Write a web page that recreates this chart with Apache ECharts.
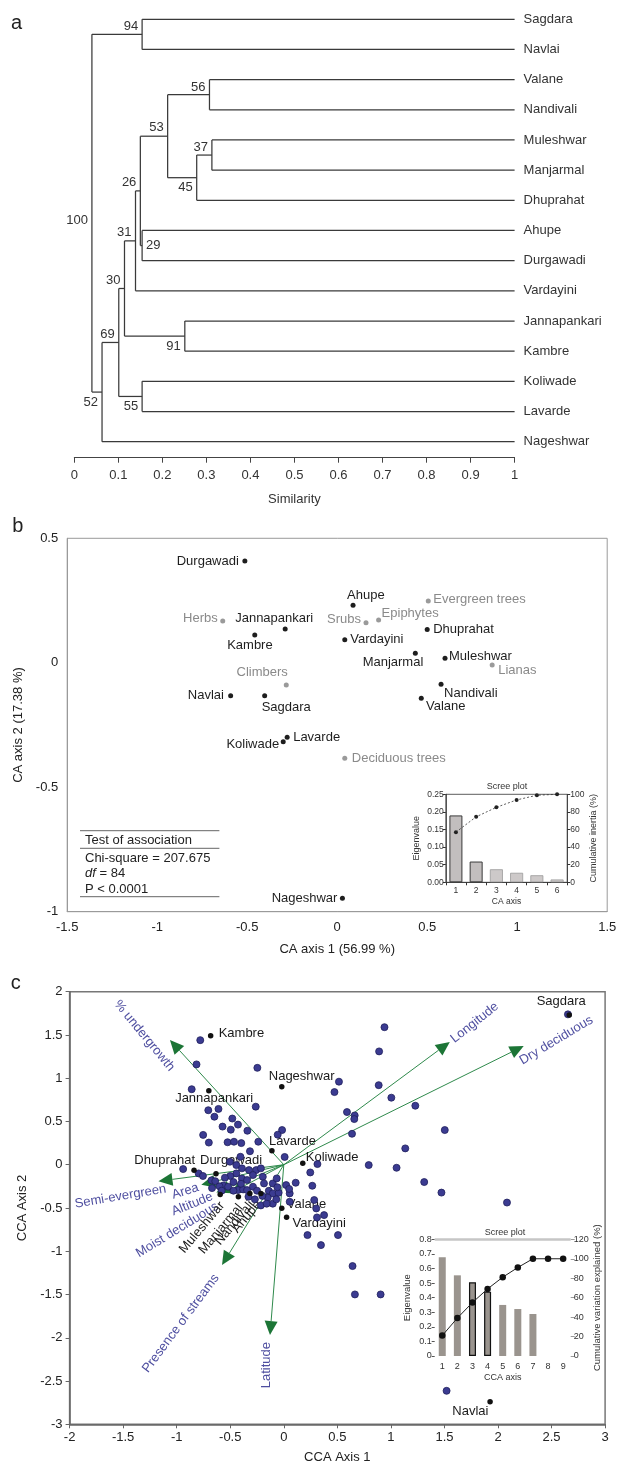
<!DOCTYPE html>
<html><head><meta charset="utf-8">
<script src="https://cdn.jsdelivr.net/npm/echarts@6/dist/echarts.min.js"></script>
<style>html,body{margin:0;padding:0;background:#fff}#c{width:620px;height:1464px}</style>
</head><body><div id="c"></div>
<script>
// ================= DATA =================
// Panel a: dendrogram
const dendroLeaves = ['Sagdara','Navlai','Valane','Nandivali','Muleshwar','Manjarmal','Dhuprahat','Ahupe','Durgawadi','Vardayini','Jannapankari','Kambre','Koliwade','Lavarde','Nageshwar'];
const dendroNodeIds = ['n94','n56','n37','n45','n53','n29','n26','n31','n91','n30','n55','n69','n52','n100'];
const dendroChildA = ['Sagdara','Valane','Muleshwar','n37','n56','Ahupe','n53','n26','Jannapankari','n31','Koliwade','n30','n69','n94'];
const dendroChildB = ['Navlai','Nandivali','Manjarmal','Dhuprahat','n45','Durgawadi','n29','Vardayini','Kambre','n91','Lavarde','n55','Nageshwar','n52'];
const dendroSimilarity = [0.154,0.307,0.3125,0.278,0.212,0.154,0.150,0.139,0.251,0.114,0.154,0.101,0.063,0.040];
const dendroSupport = [94,56,37,45,53,29,26,31,91,30,55,69,52,100];

// Panel b: correspondence analysis
const caSiteNames = ['Durgawadi','Ahupe','Jannapankari','Kambre','Dhuprahat','Vardayini','Manjarmal','Muleshwar','Nandivali','Valane','Navlai','Sagdara','Koliwade','Lavarde','Nageshwar'];
const caSiteAxis1 = [-0.513,0.088,-0.289,-0.458,0.500,0.042,0.434,0.599,0.577,0.467,-0.592,-0.403,-0.300,-0.278,0.029];
const caSiteAxis2 = [0.409,0.231,0.136,0.112,0.134,0.092,0.038,0.018,-0.086,-0.143,-0.133,-0.133,-0.317,-0.299,-0.946];
const caFormNames = ['Herbs','Srubs','Epiphytes','Evergreen trees','Lianas','Climbers','Deciduous trees'];
const caFormAxis1 = [-0.636,0.160,0.230,0.506,0.861,-0.283,0.042];
const caFormAxis2 = [0.168,0.161,0.172,0.248,-0.009,-0.089,-0.384];
const caScreeAxes = ['1','2','3','4','5','6'];
const caEigenvalues = [0.190,0.059,0.037,0.027,0.020,0.008];
const caCumInertia = [57.0,74.4,85.2,93.6,98.9,100];
const caTestLines = ['Test of association','Chi-square = 207.675','{i|df} = 84','P < 0.0001'];

// Panel c: canonical correspondence analysis
const ccaPlotAxis1 = [0.94,0.89,-0.78,-0.815,-0.247,0.515,0.473,0.886,1.004,-0.86,1.228,-0.705,-0.61,-0.262,-0.648,-0.481,-0.428,-0.572,-0.495,-0.34,0.59,0.662,0.658,0.637,-0.016,-0.057,1.503,-0.753,-0.70,-0.525,-0.465,-0.397,-0.238,-0.316,-0.405,0.008,1.134,0.793,1.053,1.311,1.472,2.084,0.314,0.247,0.266,0.111,0.022,-0.94,-0.795,-0.755,-0.675,-0.64,-0.565,-0.52,-0.443,-0.391,-0.325,-0.258,-0.214,-0.443,-0.391,-0.343,-0.288,-0.196,-0.185,-0.103,-0.066,-0.428,-0.38,-0.343,-0.288,-0.14,-0.103,-0.048,0.055,-0.214,-0.103,0.055,0.284,0.303,0.31,0.376,0.221,0.506,0.347,0.642,0.664,0.904,1.52,2.653,-0.503,-0.50,-0.55,-0.47,-0.47,-0.40,-0.25,-0.15,-0.07,-0.33,-0.27,-0.16,-0.06,0.05,-0.60,-0.58,-0.67,-0.20];
const ccaPlotAxis2 = [1.59,1.31,1.44,1.16,1.12,0.96,0.84,0.92,0.775,0.873,0.682,0.63,0.645,0.671,0.555,0.534,0.464,0.441,0.405,0.393,0.609,0.57,0.528,0.358,0.401,0.347,0.401,0.345,0.256,0.26,0.266,0.25,0.266,0.156,0.092,0.09,0.189,-0.004,-0.035,-0.2,-0.322,-0.437,0.008,-0.089,-0.243,-0.208,-0.235,-0.05,-0.10,-0.13,-0.18,-0.19,-0.24,-0.254,-0.004,-0.042,-0.062,-0.062,-0.042,-0.10,-0.158,-0.177,-0.119,-0.139,-0.216,-0.216,-0.158,-0.293,-0.285,-0.293,-0.254,-0.301,-0.331,-0.324,-0.331,-0.47,-0.45,-0.428,-0.408,-0.505,-0.609,-0.582,-0.813,-0.813,-0.929,-1.171,-1.499,-1.499,-2.613,1.738,0.035,-0.13,-0.15,-0.2,-0.3,-0.22,-0.30,-0.38,-0.40,-0.37,-0.40,-0.45,-0.26,-0.28,-0.25,-0.30,-0.27,-0.36];
const ccaSiteNames = ['Sagdara','Kambre','Nageshwar','Jannapankari','Lavarde','Koliwade','Dhuprahat','Durgawadi','Muleshwar','Manjarmal','Nandivali','Ahupe','Valane','Vardayini','Navlai'];
const ccaSiteAxis1 = [2.665,-0.683,-0.019,-0.70,-0.111,0.177,-0.838,-0.633,-0.594,-0.424,-0.317,-0.214,-0.019,0.026,1.926];
const ccaSiteAxis2 = [1.73,1.49,0.90,0.855,0.162,0.016,-0.065,-0.104,-0.343,-0.37,-0.331,-0.331,-0.504,-0.608,-2.74];
const ccaVarNames = ['% undergrowth','Longitude','Dry deciduous','Semi-evergreen','Area','Altitude','Moist deciduous','Presence of streams','Latitude'];
const ccaVarAxis1 = [-1.063,1.55,2.24,-1.17,-0.77,-0.63,-0.50,-0.577,-0.129];
const ccaVarAxis2 = [1.442,1.42,1.372,-0.19,-0.23,-0.32,-0.33,-1.16,-1.969];
const ccaScreeAxes = ['1','2','3','4','5','6','7','8','9'];
const ccaEigenvalues = [0.677,0.553,0.505,0.441,0.350,0.322,0.288,'-','-'];
const ccaCumVariation = [21,39,55,69,81,91,100,100,100];

// ================= STYLE / LAYOUT =================
const FONT = '"Liberation Sans", Arial, Helvetica, sans-serif';
const f = (s) => s + 'px ' + FONT;
const supportPlace = {94:'lt',56:'lt',37:'lt',45:'lb',53:'la',29:'r',26:'la',31:'la',91:'lb',30:'la',55:'lb',69:'la',52:'lb',100:'lm'};
const caPlace = {
  Durgawadi:[-6,0,'right'], Ahupe:[-6,-10,'left'], Jannapankari:[-50,-10,'left'], Kambre:[-27.6,11,'left'],
  Dhuprahat:[6,0,'left'], Vardayini:[5.5,0,'left'], Manjarmal:[8,9.4,'right'], Muleshwar:[4,-2,'left'],
  Nandivali:[3,9,'left'], Valane:[4.7,8.4,'left'], Navlai:[-6.7,0,'right'], Sagdara:[-3,12,'left'],
  Koliwade:[-4,2.3,'right'], Lavarde:[6,0,'left'], Nageshwar:[-5,0,'right'],
  'Herbs':[-5,-3,'right'], 'Srubs':[-5,-3,'right'], 'Epiphytes':[3,-7,'left'], 'Evergreen trees':[5,-2,'left'],
  'Lianas':[6,5,'left'], 'Climbers':[1.6,-12,'right'], 'Deciduous trees':[7,0,'left']
};
const ccaSitePlace = {
  Sagdara:[-8,-13.3,'center'], Kambre:[8,-2,'left'], Nageshwar:[-13,-10,'left'], Jannapankari:[-33.7,7.6,'left'],
  Lavarde:[-3,-9,'left'], Koliwade:[3,-6,'left'], Dhuprahat:[1,-9.6,'right'], Durgawadi:[-16,-13,'left'],
  Muleshwar:[2,9,'right',50], Manjarmal:[2,9,'right',50], Nandivali:[2,9,'right',50], Ahupe:[-2,9,'right',50],
  Valane:[5,-4,'left'], Vardayini:[6,6,'left'], Navlai:[-19.7,10,'center']
};
const ccaVarPlace = {
  '% undergrowth':[-25.7,-4.2,-50.4], 'Longitude':[24.9,-19.2,38.5], 'Dry deciduous':[32.6,-5.7,30.9],
  'Semi-evergreen':[-38,15.3,9.5], 'Area':[-16,6.7,17], 'Altitude':[-24,11.7,22], 'Moist deciduous':[-53,36.6,31.5],
  'Presence of streams':[-41.2,58.3,53.3], 'Latitude':[-3.2,30,90]
};

// ================= BUILD =================
const pos = {};
dendroLeaves.forEach((n,i)=>{pos[n]={x:1,y:i};});
dendroNodeIds.forEach((id,i)=>{const a=pos[dendroChildA[i]], b=pos[dendroChildB[i]]; pos[id]={x:dendroSimilarity[i], y:(a.y+b.y)/2};});

function renderDendro(params, api){
  const i = params.dataIndex;
  const a = pos[dendroChildA[i]], b = pos[dendroChildB[i]];
  const pa = api.coord([a.x,a.y]), pb = api.coord([b.x,b.y]);
  const pn = api.coord([dendroSimilarity[i], (a.y+b.y)/2]);
  const px = pn[0];
  const ls = {stroke:'#3a3a3a', lineWidth:1.25};
  const ch = [
    {type:'line', shape:{x1:px,y1:pa[1],x2:px,y2:pb[1]}, style:ls},
    {type:'line', shape:{x1:px,y1:pa[1],x2:pa[0],y2:pa[1]}, style:ls},
    {type:'line', shape:{x1:px,y1:pb[1],x2:pb[0],y2:pb[1]}, style:ls}
  ];
  const pl = supportPlace[dendroSupport[i]];
  let tx = px-4, ty = pn[1], al = 'right';
  if (pl==='lt') ty = pa[1]+7.5;
  else if (pl==='la') ty = pn[1]-8.5;
  else if (pl==='lb') ty = pn[1]+10;
  else if (pl==='lm') ty = pn[1]+7;
  else if (pl==='r') { tx = px+4; al = 'left'; }
  ch.push({type:'text', x:tx, y:ty, style:{text:String(dendroSupport[i]), fill:'#333', font:f(13), align:al, verticalAlign:'middle'}});
  return {type:'group', children:ch};
}
function renderLeaf(params, api){
  const p = api.coord([1, params.dataIndex]);
  return {type:'text', x:p[0]+9, y:p[1], style:{text:dendroLeaves[params.dataIndex], fill:'#333', font:f(13), align:'left', verticalAlign:'middle'}};
}
function labelRenderer(names, places, color, size){
  return function(params, api){
    const p = api.coord([api.value(0), api.value(1)]);
    const name = names[params.dataIndex];
    const pl = places[name];
    return {type:'text', x:p[0]+pl[0], y:p[1]+pl[1], rotation:(pl[3]||0)*Math.PI/180,
      style:{text:name, fill:color, font:f(size), align:pl[2]||'left', verticalAlign:'middle'}};
  };
}
function renderArrow(params, api){
  const i = params.dataIndex;
  const o = api.coord([0,0]), t = api.coord([api.value(0), api.value(1)]);
  const dx=t[0]-o[0], dy=t[1]-o[1], L=Math.hypot(dx,dy), ux=dx/L, uy=dy/L;
  const hl=14, hw=6.5;
  const bx=t[0]-ux*hl, by=t[1]-uy*hl;
  const name = ccaVarNames[i], pl = ccaVarPlace[name];
  return {type:'group', children:[
    {type:'line', shape:{x1:o[0],y1:o[1],x2:bx,y2:by}, style:{stroke:'#2f8a4c', lineWidth:1}},
    {type:'polygon', shape:{points:[[t[0],t[1]],[bx-uy*hw,by+ux*hw],[bx+uy*hw,by-ux*hw]]}, style:{fill:'#1c7536'}},
    {type:'text', x:t[0]+pl[0], y:t[1]+pl[1], rotation:pl[2]*Math.PI/180,
      style:{text:name, fill:'#4f4fa0', font:f(13), align:'center', verticalAlign:'middle'}}
  ]};
}
const zip = (a,b) => a.map((v,i)=>[v,b[i]]);

const axisText = (s,c) => ({fontSize:s, color:c||'#333', fontFamily:FONT});
const grids = [
  {left:74.3, top:4.2, width:440.3, height:453.5},
  {left:67.2, top:538.3, width:540, height:373.4, show:true, borderColor:'#9a9a9a', borderWidth:1},
  {left:445.8, top:794.3, width:121.4, height:88, show:true, borderColor:'#333', borderWidth:0.8, backgroundColor:'#fff'},
  {left:69.6, top:991.7, width:535.5, height:432.6, show:true, borderColor:'#777', borderWidth:1.5},
  {left:434.7, top:1239.3, width:136, height:116.7}
].map(g=>Object.assign({containLabel:false, outerBoundsMode:'none'}, g));

const option = {
  animation:false,
  backgroundColor:'#fff',
  textStyle:{fontFamily:FONT},
  grid: grids,
  xAxis:[
    {gridIndex:0, type:'value', min:0, max:1, interval:0.1,
     axisLine:{onZero:false, lineStyle:{color:'#444', width:1}}, axisTick:{show:true, length:5, lineStyle:{color:'#444'}},
     axisLabel:Object.assign({margin:11}, axisText(13,'#333')), splitLine:{show:false},
     name:'Similarity', nameLocation:'middle', nameGap:35, nameTextStyle:axisText(13,'#333')},
    {gridIndex:1, type:'value', min:-1.5, max:1.5, interval:0.5,
     axisLine:{onZero:false, lineStyle:{color:'#9a9a9a'}}, axisTick:{show:false},
     axisLabel:Object.assign({margin:9}, axisText(13,'#222')), splitLine:{show:false},
     name:'CA axis 1 (56.99 %)', nameLocation:'middle', nameGap:31, nameTextStyle:axisText(13,'#222')},
    {gridIndex:2, type:'category', data:caScreeAxes,
     axisLine:{onZero:false, lineStyle:{color:'#333', width:0.8}}, axisTick:{show:true, length:3, lineStyle:{color:'#333'}},
     axisLabel:Object.assign({margin:4}, axisText(8.5,'#333')),
     name:'CA axis', nameLocation:'middle', nameGap:15, nameTextStyle:axisText(8.5,'#333')},
    {gridIndex:3, type:'value', min:-2, max:3, interval:0.5,
     axisLine:{onZero:false, lineStyle:{color:'#666', width:1.5}}, axisTick:{show:true, length:4, lineStyle:{color:'#666'}},
     axisLabel:Object.assign({margin:7}, axisText(13,'#222')), splitLine:{show:false},
     name:'CCA Axis 1', nameLocation:'middle', nameGap:27, nameTextStyle:axisText(13,'#222')},
    {gridIndex:4, type:'category', data:ccaScreeAxes,
     axisLine:{show:false, onZero:false}, axisTick:{show:false},
     axisLabel:Object.assign({margin:6}, axisText(9,'#333')),
     name:'CCA axis', nameLocation:'middle', nameGap:17, nameTextStyle:axisText(9,'#333')}
  ],
  yAxis:[
    {gridIndex:0, type:'value', min:-0.5, max:14.53, inverse:true, show:false},
    {gridIndex:1, type:'value', min:-1, max:0.5, interval:0.5,
     axisLine:{show:true, onZero:false, lineStyle:{color:'#9a9a9a'}}, axisTick:{show:false},
     axisLabel:Object.assign({margin:9}, axisText(13,'#222')), splitLine:{show:false},
     name:'CA axis 2 (17.38 %)', nameLocation:'middle', nameGap:36, nameRotate:90, nameTextStyle:axisText(13,'#222')},
    {gridIndex:2, type:'value', min:0, max:0.25, interval:0.05,
     axisLine:{show:true, onZero:false, lineStyle:{color:'#333', width:0.8}}, axisTick:{show:true, length:3, lineStyle:{color:'#333'}},
     axisLabel:Object.assign({margin:2, formatter:(v)=>v.toFixed(2)}, axisText(8.5,'#333')), splitLine:{show:false},
     name:'Eigenvalue', nameLocation:'middle', nameGap:25, nameRotate:90, nameTextStyle:axisText(9,'#333')},
    {gridIndex:2, type:'value', position:'right', min:0, max:100, interval:20,
     axisLine:{show:true, onZero:false, lineStyle:{color:'#333', width:0.8}}, axisTick:{show:true, length:3, lineStyle:{color:'#333'}},
     axisLabel:Object.assign({margin:3}, axisText(8.5,'#333')), splitLine:{show:false},
     name:'Cumulative inertia (%)', nameLocation:'middle', nameGap:22, nameRotate:90, nameTextStyle:axisText(9,'#333')},
    {gridIndex:3, type:'value', min:-3, max:2, interval:0.5,
     axisLine:{show:true, onZero:false, lineStyle:{color:'#666', width:1.5}}, axisTick:{show:true, length:4, lineStyle:{color:'#666'}},
     axisLabel:Object.assign({margin:7}, axisText(13,'#222')), splitLine:{show:false},
     name:'CCA Axis 2', nameLocation:'middle', nameGap:29, nameRotate:90, nameTextStyle:axisText(13,'#222')},
    {gridIndex:4, type:'value', min:0, max:0.8, interval:0.1,
     axisLine:{show:false, onZero:false}, axisTick:{show:true, length:3, lineStyle:{color:'#555'}},
     axisLabel:Object.assign({margin:3, formatter:(v)=>v===0?'0':v.toFixed(1)}, axisText(9,'#333')), splitLine:{show:false},
     name:'Eigenvalue', nameLocation:'middle', nameGap:22, nameRotate:90, nameTextStyle:axisText(9.5,'#333')},
    {gridIndex:4, type:'value', position:'right', min:0, max:120, interval:20,
     axisLine:{show:false, onZero:false}, axisTick:{show:true, length:4, lineStyle:{color:'#999'}},
     axisLabel:Object.assign({margin:3}, axisText(9,'#333')), splitLine:{show:false},
     name:'Cumulative variation explained (%)', nameLocation:'middle', nameGap:21, nameRotate:90, nameTextStyle:axisText(9.5,'#333')}
  ],
  series:[
    {type:'custom', xAxisIndex:0, yAxisIndex:0, renderItem:renderDendro,
     data:dendroSimilarity.map((v,i)=>[v,i]), encode:{x:0,y:1}, silent:true},
    {type:'custom', xAxisIndex:0, yAxisIndex:0, renderItem:renderLeaf,
     data:dendroLeaves.map((n,i)=>[1,i]), encode:{x:0,y:1}, silent:true},
    {type:'scatter', xAxisIndex:1, yAxisIndex:1, data:zip(caFormAxis1, caFormAxis2), symbolSize:5,
     itemStyle:{color:'#9a9a9a', opacity:1}},
    {type:'scatter', xAxisIndex:1, yAxisIndex:1, data:zip(caSiteAxis1, caSiteAxis2), symbolSize:5,
     itemStyle:{color:'#1e1e1e', opacity:1}},
    {type:'custom', xAxisIndex:1, yAxisIndex:1, renderItem:labelRenderer(caSiteNames, caPlace, '#1e1e1e', 13),
     data:zip(caSiteAxis1, caSiteAxis2), encode:{x:0,y:1}, silent:true},
    {type:'custom', xAxisIndex:1, yAxisIndex:1, renderItem:labelRenderer(caFormNames, caPlace, '#8a8a8a', 13),
     data:zip(caFormAxis1, caFormAxis2), encode:{x:0,y:1}, silent:true},
    {type:'bar', xAxisIndex:2, yAxisIndex:2, barWidth:13,
     data:caEigenvalues.map((v,i)=>({value:v, itemStyle: i<2 ? {color:'#c2bebe', borderColor:'#3a3a3a', borderWidth:1} : {color:'#cdc9c9', borderColor:'#9a9a9a', borderWidth:0.8}}))},
    {type:'line', xAxisIndex:2, yAxisIndex:3, data:caCumInertia, symbol:'circle', symbolSize:4,
     itemStyle:{color:'#222'}, lineStyle:{color:'#333', width:0.8, type:[2,2]}},
    {type:'scatter', xAxisIndex:3, yAxisIndex:4, data:zip(ccaPlotAxis1, ccaPlotAxis2), symbolSize:7,
     itemStyle:{color:'#3b3b91', borderColor:'#20205c', borderWidth:0.8, opacity:1}},
    {type:'custom', xAxisIndex:3, yAxisIndex:4, renderItem:renderArrow,
     data:zip(ccaVarAxis1, ccaVarAxis2), encode:{x:0,y:1}, silent:true},
    {type:'scatter', xAxisIndex:3, yAxisIndex:4, data:zip(ccaSiteAxis1, ccaSiteAxis2), symbolSize:5.5,
     itemStyle:{color:'#111', opacity:1}},
    {type:'custom', xAxisIndex:3, yAxisIndex:4, renderItem:labelRenderer(ccaSiteNames, ccaSitePlace, '#1a1a1a', 13),
     data:zip(ccaSiteAxis1, ccaSiteAxis2), encode:{x:0,y:1}, silent:true},
    {type:'bar', xAxisIndex:4, yAxisIndex:5, barWidth:7,
     data:ccaEigenvalues.map((v,i)=>({value:v, itemStyle: (i===2||i===3) ? {color:'#9a948e', borderColor:'#111', borderWidth:1.2} : {color:'#9a948e'}})),
     markLine:{silent:true, symbol:'none', label:{show:false}, lineStyle:{color:'#c6c6c6', width:2.5, type:'solid'}, data:[{yAxis:0.8}]}},
    {type:'line', xAxisIndex:4, yAxisIndex:6, data:ccaCumVariation, symbol:'circle', symbolSize:6.5,
     itemStyle:{color:'#111'}, lineStyle:{color:'#222', width:1}}
  ],
  graphic:[
    {type:'text', x:16.6, y:23, style:{text:'a', font:f(20), fill:'#222', align:'center', verticalAlign:'middle'}},
    {type:'text', x:17.8, y:526, style:{text:'b', font:f(20), fill:'#222', align:'center', verticalAlign:'middle'}},
    {type:'text', x:15.8, y:983, style:{text:'c', font:f(20), fill:'#222', align:'center', verticalAlign:'middle'}},
    {type:'line', shape:{x1:80,y1:830.7,x2:219.4,y2:830.7}, style:{stroke:'#666', lineWidth:1}},
    {type:'line', shape:{x1:80,y1:848.3,x2:219.4,y2:848.3}, style:{stroke:'#666', lineWidth:1}},
    {type:'line', shape:{x1:80,y1:896.7,x2:219.4,y2:896.7}, style:{stroke:'#666', lineWidth:1}},
    {type:'text', x:85, y:840, style:{text:caTestLines[0], font:f(13), fill:'#222', verticalAlign:'middle'}},
    {type:'text', x:85, y:858.3, style:{text:caTestLines[1], font:f(13), fill:'#222', verticalAlign:'middle'}},
    {type:'text', x:85, y:873.3, style:{text:caTestLines[2], font:f(13), fill:'#222', verticalAlign:'middle',
      rich:{i:{fontStyle:'italic', fontSize:13, fontFamily:FONT, fill:'#222'}}}},
    {type:'text', x:85, y:889.3, style:{text:caTestLines[3], font:f(13), fill:'#222', verticalAlign:'middle'}},
    {type:'text', x:507, y:786.7, style:{text:'Scree plot', font:f(9), fill:'#333', align:'center', verticalAlign:'middle'}},
    {type:'text', x:505, y:1232.7, style:{text:'Scree plot', font:f(9), fill:'#333', align:'center', verticalAlign:'middle'}}
  ]
};
const chart = echarts.init(document.getElementById('c'), null, {renderer:'canvas'});
chart.setOption(option);
</script>
</body></html>
